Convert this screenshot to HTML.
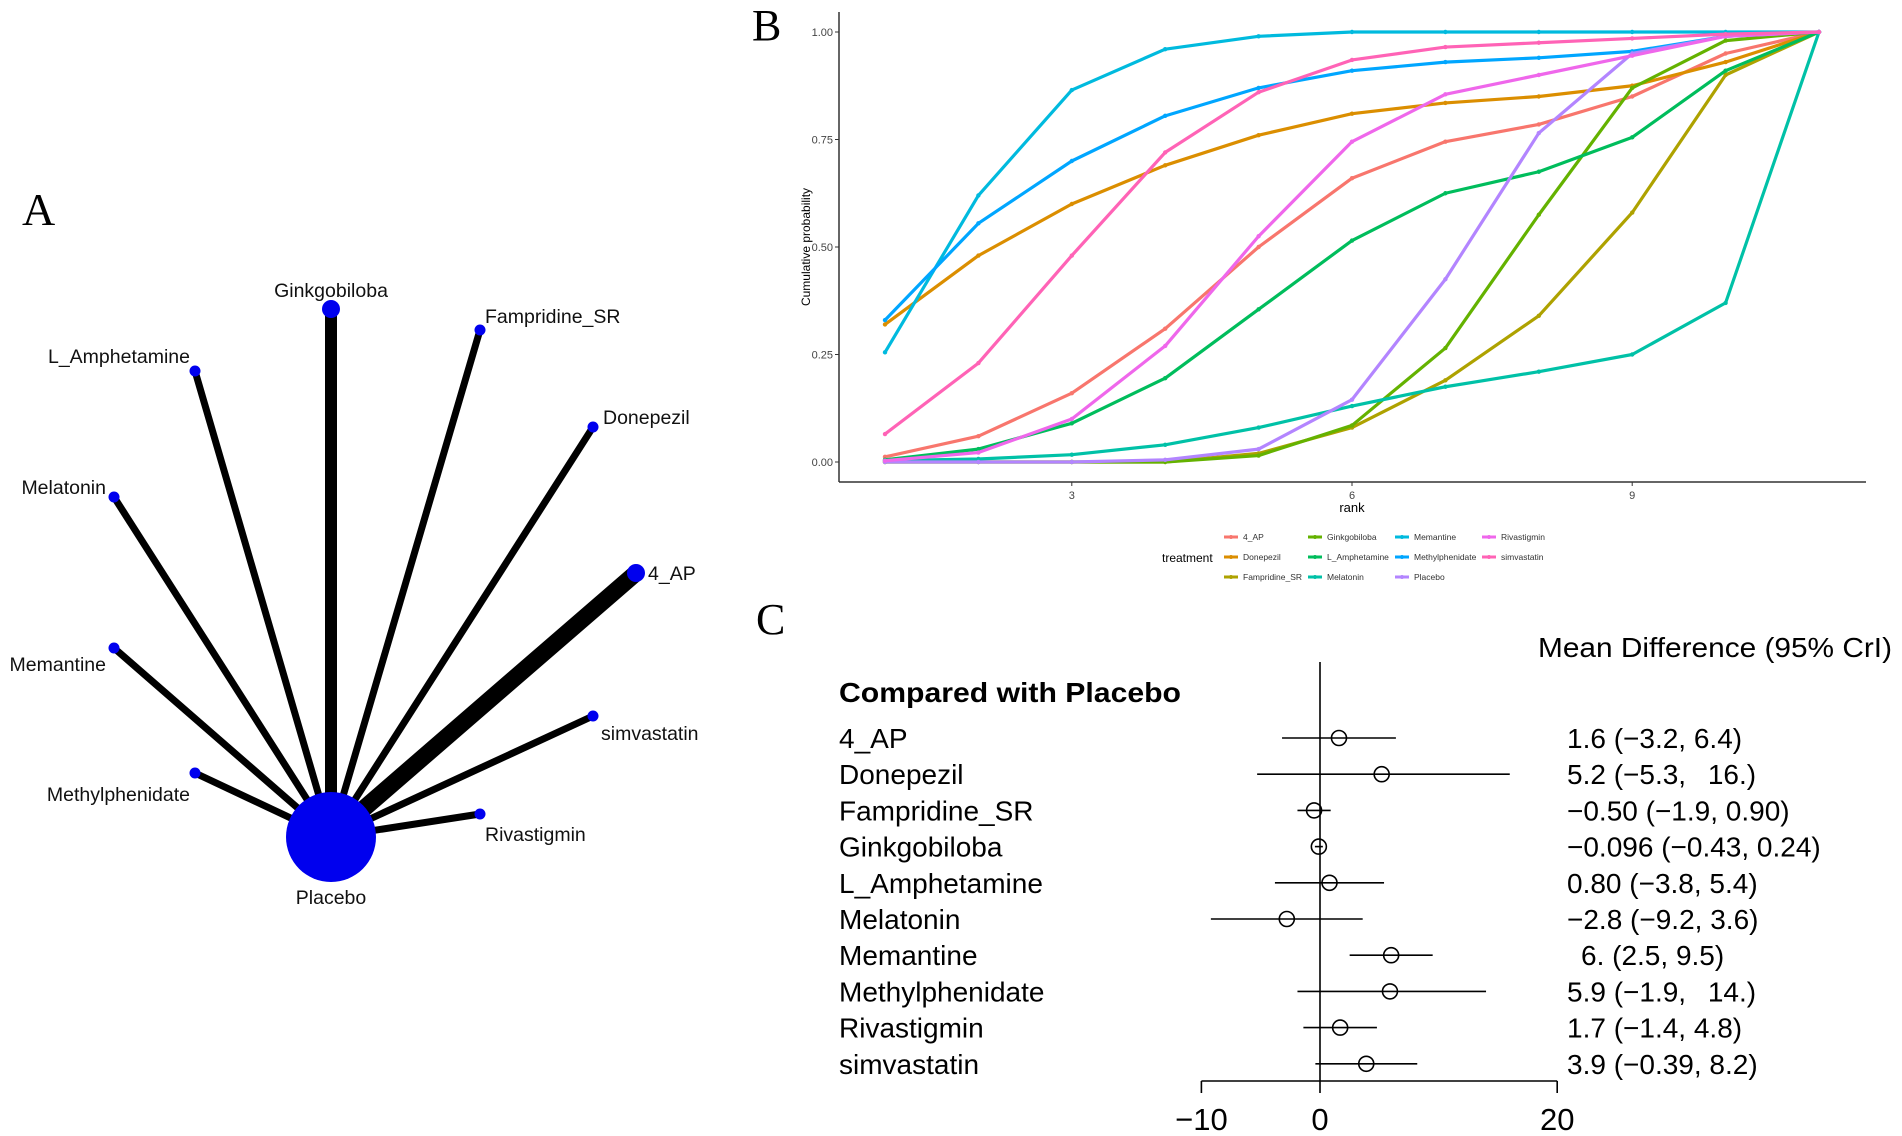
<!DOCTYPE html>
<html><head><meta charset="utf-8"><style>
html,body{margin:0;padding:0;background:#fff;}
svg{display:block;font-family:"Liberation Sans",Arial,sans-serif;}
</style></head><body>
<svg id="s" width="1902" height="1136" viewBox="0 0 1902 1136" xmlns="http://www.w3.org/2000/svg">
<rect width="1902" height="1136" fill="#fff"/>
<!-- Panel A -->
<text x="22" y="225" font-family="Liberation Serif,serif" font-size="46">A</text>
<g stroke="#000" stroke-linecap="butt">
<line x1="331" y1="837" x2="331" y2="309" stroke-width="12"/>
<line x1="331" y1="837" x2="480" y2="330" stroke-width="7"/>
<line x1="331" y1="837" x2="195" y2="371" stroke-width="7"/>
<line x1="331" y1="837" x2="593" y2="427" stroke-width="7"/>
<line x1="331" y1="837" x2="114" y2="497" stroke-width="7"/>
<line x1="331" y1="837" x2="636" y2="573" stroke-width="17"/>
<line x1="331" y1="837" x2="114" y2="648" stroke-width="7"/>
<line x1="331" y1="837" x2="593" y2="716" stroke-width="7"/>
<line x1="331" y1="837" x2="195" y2="773" stroke-width="7"/>
<line x1="331" y1="837" x2="480" y2="814" stroke-width="7"/>
</g>
<g fill="#0000ee">
<circle cx="331" cy="837" r="45"/>
<circle cx="331" cy="309" r="9"/>
<circle cx="636" cy="573" r="9"/>
<circle cx="480" cy="330" r="5.5"/><circle cx="195" cy="371" r="5.5"/>
<circle cx="593" cy="427" r="5.5"/><circle cx="114" cy="497" r="5.5"/>
<circle cx="114" cy="648" r="5.5"/><circle cx="593" cy="716" r="5.5"/>
<circle cx="195" cy="773" r="5.5"/><circle cx="480" cy="814" r="5.5"/>
</g>
<g font-size="19.5" fill="#111">
<text x="331" y="297" text-anchor="middle">Ginkgobiloba</text>
<text x="485" y="323">Fampridine_SR</text>
<text x="190" y="363" text-anchor="end">L_Amphetamine</text>
<text x="603" y="424">Donepezil</text>
<text x="106" y="494" text-anchor="end">Melatonin</text>
<text x="648" y="580">4_AP</text>
<text x="106" y="671" text-anchor="end">Memantine</text>
<text x="601" y="740">simvastatin</text>
<text x="190" y="801" text-anchor="end">Methylphenidate</text>
<text x="485" y="841">Rivastigmin</text>
<text x="331" y="904" text-anchor="middle">Placebo</text>
</g>
<!-- Panel B -->
<text x="752" y="40" font-family="Liberation Serif,serif" font-size="44">B</text>
<g id="B"></g>
<!-- Panel C -->
<text x="756" y="634" font-family="Liberation Serif,serif" font-size="44">C</text>
<g id="C"></g>
</svg>
<script>
var ns="http://www.w3.org/2000/svg";
function el(p,t,a,txt){var e=document.createElementNS(ns,t);for(var k in a)e.setAttribute(k,a[k]);if(txt!==undefined)e.textContent=txt;p.appendChild(e);return e;}
var B=document.getElementById("B");
el(B,"line",{x1:839,y1:12,x2:839,y2:482,stroke:"#333","stroke-width":1.5});
el(B,"line",{x1:839,y1:482,x2:1866,y2:482,stroke:"#333","stroke-width":1.5});
function Y(v){return 462-v*430;} function X(r){return 885+(r-1)*93.4;}
[[0,"0.00"],[0.25,"0.25"],[0.5,"0.50"],[0.75,"0.75"],[1,"1.00"]].forEach(function(t){
 el(B,"text",{x:833,y:Y(t[0])+4,"font-size":11,"text-anchor":"end",fill:"#444"},t[1]);
 el(B,"line",{x1:835,y1:Y(t[0]),x2:839,y2:Y(t[0]),stroke:"#333"});});
[3,6,9].forEach(function(r){el(B,"text",{x:X(r),y:499,"font-size":11,"text-anchor":"middle",fill:"#444"},r);
 el(B,"line",{x1:X(r),y1:482,x2:X(r),y2:486,stroke:"#333"});});
el(B,"text",{x:1352,y:512,"font-size":13,"text-anchor":"middle"},"rank");
el(B,"text",{x:0,y:0,"font-size":12,"text-anchor":"middle",transform:"translate(810,247) rotate(-90)"},"Cumulative probability");
var S=[
["4_AP","#F8766D",[0.012,0.06,0.16,0.31,0.50,0.66,0.745,0.785,0.85,0.95,1]],
["Donepezil","#DB8E00",[0.32,0.48,0.60,0.69,0.76,0.81,0.835,0.85,0.875,0.93,1]],
["Fampridine_SR","#AEA200",[0,0,0,0,0.02,0.08,0.19,0.34,0.58,0.90,1]],
["Ginkgobiloba","#64B200",[0,0,0,0,0.015,0.085,0.265,0.575,0.87,0.98,1]],
["L_Amphetamine","#00BD5C",[0.005,0.03,0.09,0.195,0.355,0.515,0.625,0.675,0.755,0.91,1]],
["Melatonin","#00C1A7",[0.003,0.007,0.017,0.04,0.08,0.13,0.175,0.21,0.25,0.37,1]],
["Memantine","#00BADE",[0.255,0.62,0.865,0.96,0.99,1,1,1,1,1,1]],
["Methylphenidate","#00A6FF",[0.33,0.555,0.70,0.805,0.87,0.91,0.93,0.94,0.955,0.99,1]],
["Placebo","#B385FF",[0,0,0,0.005,0.03,0.145,0.425,0.765,0.95,0.99,1]],
["Rivastigmin","#EF67EB",[0.003,0.022,0.10,0.27,0.525,0.745,0.855,0.90,0.945,0.99,1]],
["simvastatin","#FF63B6",[0.065,0.23,0.48,0.72,0.86,0.935,0.965,0.975,0.985,0.995,1]]];
S.forEach(function(s){var p=s[2].map(function(v,i){return X(i+1)+","+Y(v);}).join(" ");
 el(B,"polyline",{points:p,fill:"none",stroke:s[1],"stroke-width":3.2,"stroke-linejoin":"round"});
 s[2].forEach(function(v,i){el(B,"circle",{cx:X(i+1),cy:Y(v),r:2.2,fill:s[1]});});});
el(B,"text",{x:1162,y:562,"font-size":12},"treatment");
var cols=[1231,1315,1402,1489],rows=[537,557,577];
S.forEach(function(s,i){var c=Math.floor(i/3),r=i%3;var x=cols[c],y=rows[r];
 el(B,"line",{x1:x-7,y1:y,x2:x+7,y2:y,stroke:s[1],"stroke-width":3});
 el(B,"circle",{cx:x,cy:y,r:2,fill:s[1]});
 el(B,"text",{x:x+12,y:y+3,"font-size":8.5,fill:"#333"},s[0]);});
// Panel C
var C=document.getElementById("C");
function FX(v){return 1320+v*11.86;}
el(C,"text",{x:1538,y:657,"font-size":28,textLength:354,lengthAdjust:"spacingAndGlyphs"},"Mean Difference (95% CrI)");
el(C,"text",{x:839,y:702,"font-size":27.5,"font-weight":"bold",textLength:342,lengthAdjust:"spacingAndGlyphs"},"Compared with Placebo");
el(C,"line",{x1:1320,y1:662,x2:1320,y2:1081,stroke:"#000","stroke-width":1.6});
el(C,"line",{x1:FX(-10),y1:1081,x2:FX(20),y2:1081,stroke:"#000","stroke-width":1.6});
[-10,0,20].forEach(function(t){el(C,"line",{x1:FX(t),y1:1081,x2:FX(t),y2:1093,stroke:"#000","stroke-width":1.6});
 el(C,"text",{x:FX(t),y:1130,"font-size":31,"text-anchor":"middle"},t<0?"\u221210":String(t));});
var D=[["4_AP",1.6,-3.2,6.4,"1.6 (\u22123.2, 6.4)"],["Donepezil",5.2,-5.3,16,"5.2 (\u22125.3,\u2002 16.)"],
["Fampridine_SR",-0.5,-1.9,0.9,"\u22120.50 (\u22121.9, 0.90)"],["Ginkgobiloba",-0.096,-0.43,0.24,"\u22120.096 (\u22120.43, 0.24)"],
["L_Amphetamine",0.8,-3.8,5.4,"0.80 (\u22123.8, 5.4)"],["Melatonin",-2.8,-9.2,3.6,"\u22122.8 (\u22129.2, 3.6)"],
["Memantine",6,2.5,9.5,"\u20026. (2.5, 9.5)"],["Methylphenidate",5.9,-1.9,14,"5.9 (\u22121.9,\u2002 14.)"],
["Rivastigmin",1.7,-1.4,4.8,"1.7 (\u22121.4, 4.8)"],["simvastatin",3.9,-0.39,8.2,"3.9 (\u22120.39, 8.2)"]];
D.forEach(function(d,i){var y=738+i*36.2;
 el(C,"text",{x:839,y:y+10,"font-size":28},d[0]);
 el(C,"line",{x1:FX(d[2]),y1:y,x2:FX(d[3]),y2:y,stroke:"#000","stroke-width":1.6});
 el(C,"circle",{cx:FX(d[1]),cy:y,r:7.5,fill:"none",stroke:"#000","stroke-width":1.6});
 el(C,"text",{x:1567,y:y+10,"font-size":28},d[4]);});
</script>
</body></html>
